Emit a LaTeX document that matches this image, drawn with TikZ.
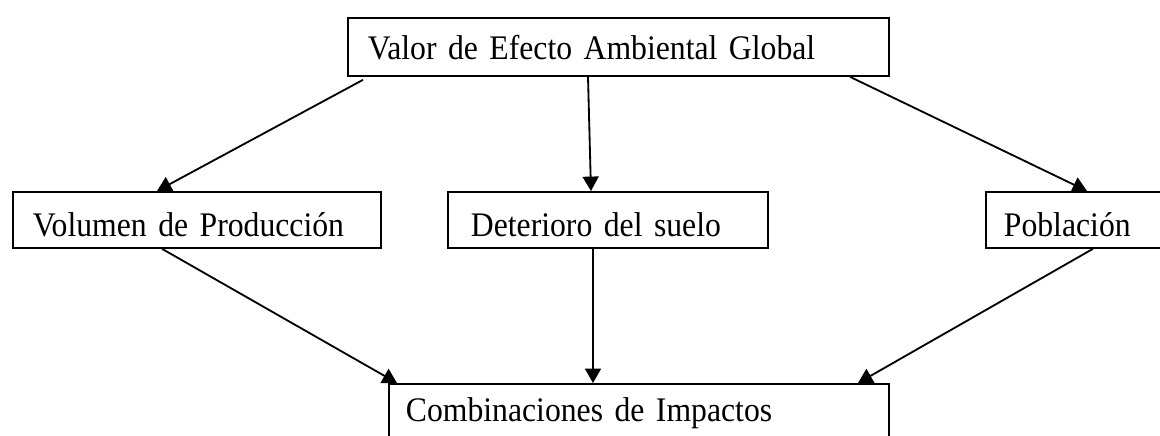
\documentclass[tikz,border=0pt]{standalone}
\usepackage{fontspec}
\setmainfont[FakeStretch=0.92]{Liberation Serif}
\usetikzlibrary{arrows.meta}
\newlength{\pix}
\setlength{\pix}{0.025cm}
\begin{document}
\begin{tikzpicture}[x=\pix, y=-\pix, box/.style={draw, line width=1.3pt,
      anchor=north west, inner ysep=0pt, inner xsep=20\pix,
      font=\fontsize{24.5pt}{29pt}\selectfont}]
    \clip (0,0) rectangle (1160,435);
    \begin{scope}[every node/.style={box}]
      \node [text width=501\pix, text height=42\pix, text depth=16\pix]
      (val) at (347,17) {Valor de Efecto Ambiental Global}; \node
      [text width=328\pix, text height=45\pix, text depth=11\pix] (vol)
      at (12,191) {Volumen de Producción}; \node [inner xsep=23\pix,
      text width=274\pix, text height=45\pix, text depth=11\pix] (det)
      at (447,191) {Deterioro del suelo}; \node [inner xsep=18\pix,
      text width=164\pix, text height=45\pix, text depth=11\pix] (pob)
      at (985,191) {Población}; \node [inner xsep=17\pix, text
      width=466\pix, text height=38\pix, text depth=32\pix] (com) at
      (388,383) {Combinaciones de Impactos};
    \end{scope}
    \begin{scope}[-{Triangle[length=0.36cm, width=0.4cm]}, line
      width=1.3pt]
      \draw ([xshift=16\pix, yshift=-3\pix]val.south west) to
      ([xshift=145\pix]vol.north west); \draw ([xshift=241\pix]val.south
      west) to ([xshift=144\pix]det.north west); \draw
      ([xshift=503\pix]val.south west) to ([xshift=102\pix]pob.north
      west); \draw ([xshift=150\pix]vol.south west) to
      ([xshift=9\pix]com.north west); \draw ([xshift=146\pix]det.south
      west) to ([xshift=205\pix]com.north west); \draw
      ([xshift=108\pix]pob.south west) to ([xshift=470\pix]com.north
      west);
    \end{scope}
  \end{tikzpicture}
\end{document}
